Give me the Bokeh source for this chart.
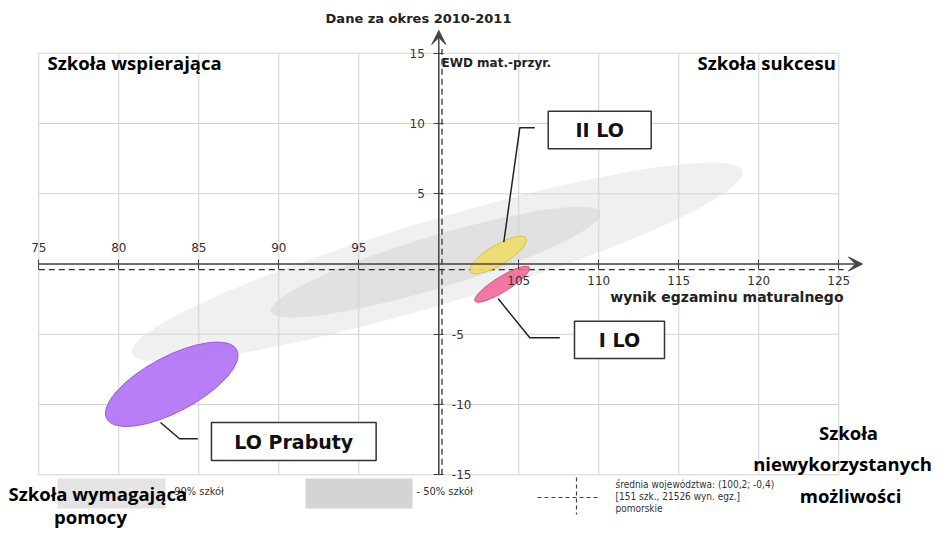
import numpy as np
from bokeh.plotting import figure
from bokeh.models import Range1d, LinearAxis, FixedTicker, Label, Arrow, VeeHead
from bokeh.core.properties import value
from bokeh.embed import file_html
from bokeh.resources import INLINE

# ---------------- data ----------------
x_ticks_left = [75, 80, 85, 90, 95]
x_ticks_right = [105, 110, 115, 120, 125]
y_ticks_up = [5, 10, 15]
y_ticks_down = [-15, -10, -5]
grid_x = [75, 80, 85, 90, 95, 100, 105, 110, 115, 120, 125]
grid_y = [-15, -10, -5, 0, 5, 10, 15]
axis_cross_x = 100
axis_cross_y = 0

mean_x = 100.2
mean_y = -0.4
n_schools = 151
n_results = 21526
region = "pomorskie"

band_labels = ["- 90% szkół", "- 50% szkół"]
band_cx = [99.9, 99.8]
band_cy = [0.13, 0.13]
band_w = [39.8, 21.5]
band_h = [6.0, 3.7]
band_angle_deg = [16.6, 16.7]

schools = ["LO Prabuty", "I LO", "II LO"]
school_x = [83.31, 103.96, 103.71]
school_y = [-8.56, -1.44, 0.64]
school_w = [9.19, 3.99, 4.06]
school_h = [3.94, 1.07, 1.42]
school_angle_deg = [27.9, 31.8, 31.0]

# ---------------- layout helpers (image pixels -> data) ----------------
W, H = 940, 533
def X(px):
    return 75 + (px - 38.3) / 16.0
def Y(py):
    return (263.5 - py) / 14.05

p = figure(width=W, height=H, x_range=Range1d(X(0), X(W)), y_range=Range1d(Y(H), Y(0)),
           output_backend="svg", toolbar_location=None, min_border=0,
           x_axis_type=None, y_axis_type=None)
p.outline_line_color = None
p.background_fill_color = "white"
p.border_fill_color = "white"

# bands (90% / 50%)
p.ellipse(x=band_cx, y=band_cy, width=band_w, height=band_h,
          angle=np.radians(band_angle_deg).tolist(),
          fill_color=["#f0f0f0", "#e1e1e1"], line_color=None)

# grid
gx0, gx1 = min(grid_x), max(grid_x)
gy0, gy1 = min(grid_y), max(grid_y)
p.segment(x0=grid_x, y0=[gy0] * len(grid_x), x1=grid_x, y1=[gy1] * len(grid_x),
          line_color="#d2d2d2", line_width=1)
p.segment(x0=[gx0] * len(grid_y), y0=grid_y, x1=[gx1] * len(grid_y), y1=grid_y,
          line_color="#d2d2d2", line_width=1)

# mean lines
p.line([gx0, gx1 + 0.3], [mean_y, mean_y], line_color="#333333", line_width=1.3, line_dash="6 4")
p.line([mean_x, mean_x], [gy0, gy1 + 0.3], line_color="#333333", line_width=1.3, line_dash="6 4")

# school ellipses
p.ellipse(x=school_x, y=school_y, width=school_w, height=school_h,
          angle=np.radians(school_angle_deg).tolist(),
          fill_color=["#b070f5", "#f0689a", "#eedd66"],
          line_color=["#9a58e0", "#d85585", "#d6c450"], fill_alpha=0.9, line_width=1)

# axes
axis_style = dict(axis_line_color=None, major_tick_line_color="#444444", major_tick_in=5,
                  major_tick_out=5, minor_tick_line_color=None,
                  major_label_text_font="DejaVu Sans", major_label_text_font_size="12px",
                  major_label_text_color="#333333")
def overrides(ticks):
    return {t: str(t) for t in ticks}
ax_up = LinearAxis(fixed_location=axis_cross_y, ticker=FixedTicker(ticks=x_ticks_left),
                   major_label_standoff=7, major_label_overrides=overrides(x_ticks_left), **axis_style)
p.add_layout(ax_up, "above")
ax_dn = LinearAxis(fixed_location=axis_cross_y, ticker=FixedTicker(ticks=x_ticks_right),
                   major_label_standoff=7, major_label_overrides=overrides(x_ticks_right), **axis_style)
p.add_layout(ax_dn, "below")
ay_l = LinearAxis(fixed_location=axis_cross_x, ticker=FixedTicker(ticks=y_ticks_up),
                  major_label_standoff=9, major_label_overrides=overrides(y_ticks_up), **axis_style)
p.add_layout(ay_l, "left")
ay_r = LinearAxis(fixed_location=axis_cross_x, ticker=FixedTicker(ticks=y_ticks_down),
                  major_label_standoff=8, major_label_overrides=overrides(y_ticks_down), **axis_style)
p.add_layout(ay_r, "right")

p.add_layout(Arrow(end=VeeHead(size=14, fill_color="#444444", line_color="#444444"),
                   x_start=gx0, y_start=axis_cross_y, x_end=X(862), y_end=axis_cross_y,
                   line_color="#444444", line_width=1.5))
p.add_layout(Arrow(end=VeeHead(size=14, fill_color="#444444", line_color="#444444"),
                   x_start=axis_cross_x, y_start=gy0, x_end=axis_cross_x, y_end=Y(30),
                   line_color="#444444", line_width=1.5))

# school labels with leader lines
lead_xs = [[X(160), X(179), X(197.3)], [X(497.7), X(529.3), X(559.3)], [X(503.3), X(519.3), X(534.3)]]
lead_ys = [[Y(422), Y(438.3), Y(438.3)], [Y(298.3), Y(337.3), Y(337.3)], [Y(241.7), Y(127.3), Y(127.3)]]
p.multi_line(xs=lead_xs, ys=lead_ys, line_color="#222222", line_width=1.5)
box_x = [X(293.3), X(619), X(599.2)]
box_y = [Y(441), Y(339.4), Y(129.5)]
box_w = [164.7 / 16, 90 / 16, 103 / 16]
box_h = [38 / 14.05, 37.3 / 14.05, 37.6 / 14.05]
p.rect(x=box_x, y=box_y, width=box_w, height=box_h, fill_color="white",
       line_color="#333333", line_width=1.5)
p.text(x=box_x, y=box_y, text=schools, text_font=value("DejaVu Sans"), text_font_style="bold",
       text_font_size="19px", text_align="center", text_baseline="middle", text_color="#111111")

# axis titles
p.add_layout(Label(x=X(441), y=Y(62), text="EWD mat.-przyr.", text_font="DejaVu Sans",
                   text_font_style="bold", text_font_size="12px", text_color="#222222",
                   text_align="left", text_baseline="middle"))
p.add_layout(Label(x=X(843), y=Y(296), text="wynik egzaminu maturalnego", text_font="DejaVu Sans",
                   text_font_style="bold", text_font_size="14px", text_color="#222222",
                   text_align="right", text_baseline="middle"))
p.add_layout(Label(x=X(418), y=Y(18), text="Dane za okres 2010-2011", text_font="DejaVu Sans",
                   text_font_style="bold", text_font_size="13px", text_color="#222222",
                   text_align="center", text_baseline="middle"))

# legend
small_font = "DejaVu Sans Condensed, Liberation Sans, sans-serif"
sw_x = [X(111), X(358.5)]
p.rect(x=sw_x, y=[Y(493)] * 2, width=[108 / 16, 107 / 16], height=[30 / 14.05] * 2,
       fill_color=["#e4e4e4", "#d4d4d4"], line_color=None)
for lx, t in zip([X(167), X(416)], band_labels):
    p.add_layout(Label(x=lx, y=Y(491), text=t, text_font=small_font,
                       text_font_size="11px", text_color="#333333", text_align="left",
                       text_baseline="middle"))
p.line([X(537), X(600)], [Y(497), Y(497)], line_color="#444444", line_width=1.2, line_dash="4 3")
p.line([X(576), X(576)], [Y(477), Y(514)], line_color="#444444", line_width=1.2, line_dash="4 3")
mean_txt = "średnia województwa: (%s; %s)" % (str(mean_x).replace(".", ","), str(mean_y).replace(".", ","))
leg_lines = [mean_txt, "[%d szk., %d wyn. egz.]" % (n_schools, n_results), region]
for t, yy in zip(leg_lines, [484, 496, 508]):
    p.add_layout(Label(x=X(615), y=Y(yy), text=t, text_font=small_font,
                       text_font_size="10px", text_color="#333333", text_align="left",
                       text_baseline="middle"))

# quadrant labels
quad = [("Szkoła wspierająca", 47, 62, "left"), ("Szkoła sukcesu", 697, 62, "left"),
        ("Szkoła", 848, 432, "center"), ("niewykorzystanych", 842, 463, "center"),
        ("możliwości", 850, 495, "center"), ("Szkoła wymagająca", 8, 493, "left"),
        ("pomocy", 90, 516, "center")]
for t, qx, qy, al in quad:
    p.add_layout(Label(x=X(qx), y=Y(qy), text=t, text_font="Open Sans", text_font_style="bold",
                       text_font_size="18.5px", text_color="#000000", text_align=al,
                       text_baseline="middle"))

open("out.html", "w").write(file_html(p, INLINE))
